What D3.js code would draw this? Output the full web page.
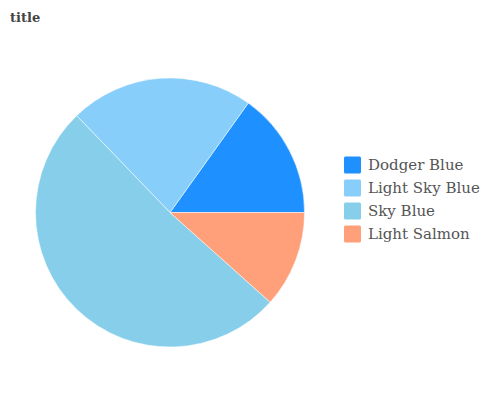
<!DOCTYPE html>
<html><head><meta charset="utf-8">
<script src="https://cdn.jsdelivr.net/npm/d3@7"></script>
<style>body{margin:0;background:#fff}svg{display:block}</style>
</head><body>
<script>
const categories = ["Dodger Blue", "Light Sky Blue", "Sky Blue", "Light Salmon"];
const values = [13, 19, 44, 10];
const colors = ["#1E90FF", "#87CEFA", "#87CEEB", "#FFA07A"];

const W = 489, H = 400;
const svg = d3.select("body").append("svg").attr("width", W).attr("height", H);

svg.append("text").attr("x", 10).attr("y", 22)
  .attr("font-family", "DejaVu Serif").attr("font-weight", "bold")
  .attr("font-size", 13).attr("fill", "#444").text("title");

const cx = 170, cy = 212.5, r = 134.5;
const color = d3.scaleOrdinal().domain(categories).range(colors);
const data = categories.map((c, i) => ({cat: c, v: values[i]}));
// start at 3 o'clock, go counterclockwise
const pie = d3.pie().value(d => d.v).sort(null)
  .startAngle(Math.PI / 2).endAngle(Math.PI / 2 - 2 * Math.PI);
const arc = d3.arc().innerRadius(0).outerRadius(r);
svg.append("g").attr("transform", `translate(${cx},${cy})`)
  .selectAll("path").data(pie(data)).join("path")
  .attr("d", arc).attr("fill", d => color(d.data.cat))
  .attr("stroke", "#fff").attr("stroke-width", 0.5);

const lg = svg.append("g").attr("transform", "translate(344,156.5)");
const item = lg.selectAll("g").data(categories).join("g")
  .attr("transform", (d, i) => `translate(0,${i * 23})`);
item.append("rect").attr("width", 17).attr("height", 17).attr("rx", 1.5)
  .attr("fill", d => color(d));
item.append("text").attr("x", 24).attr("y", 13.5)
  .attr("font-family", "DejaVu Serif").attr("font-size", 15)
  .attr("fill", "#555").text(d => d);
</script>
</body></html>
